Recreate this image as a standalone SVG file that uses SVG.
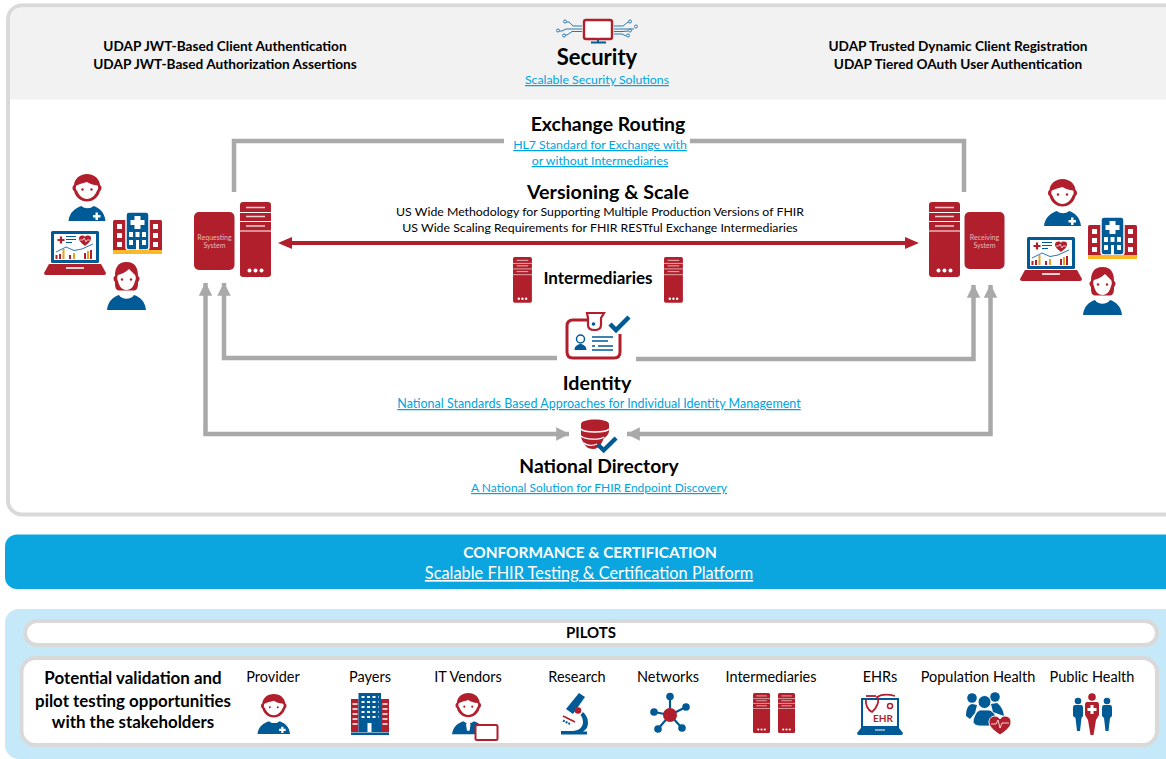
<svg xmlns="http://www.w3.org/2000/svg" width="1166" height="759" viewBox="0 0 1166 759">
<style>
text{font-family:Lato,"Liberation Sans",sans-serif;text-anchor:middle;fill:#000}
.h{font-size:19.4px;font-weight:700}
.s{font-size:13.65px;font-weight:700}
.l{font-size:12.3px;fill:#00a3e0;text-decoration:underline}
.n{font-size:12.3px}
.p{font-size:14.5px}
.q{font-size:16.9px;font-weight:700}
.t{font-size:7px;fill:#e8b8bc}
.con{fill:none;stroke:#a9a9a9;stroke-width:4.5}
.red{fill:#b01f2b}
.blue{fill:#005a96}
.w{fill:#fff}
</style>
<defs>
<marker id="ga" viewBox="0 0 10 10" refX="9.500" refY="5" markerWidth="3" markerHeight="3" orient="auto-start-reverse"><path d="M0 0L10 5L0 10z" fill="#a9a9a9"/></marker>
<g id="srv">
<rect x="0" y="0" width="31" height="75" rx="3" class="red"/>
<path d="M0 10.500H31M0 19.500H31M0 29H31" stroke="#fff" stroke-width="1"/>
<path d="M6 5.500H25M6 14.500H25M6 24H25" stroke="#f0d0d0" stroke-width="1.400"/>
<circle cx="9.500" cy="68.500" r="2" class="w"/><circle cx="15.500" cy="68.500" r="2" class="w"/><circle cx="21.500" cy="68.500" r="2" class="w"/>
</g>
<g id="head">
<path d="M18.500 0C11 0 6 5 5.500 11C3.500 12 3.500 16 5.500 17C7 23 12 27.500 18.500 27.500C25 27.500 30 23 31.500 17C33.500 16 33.500 12 31.500 11C31 5 26 0 18.500 0z" class="red"/>
<path d="M18.500 8C15 9 11 10 8 11.500C7 12 7 16 8.500 16.500C10 21 14 25 18.500 25C23 25 27 21 28.500 16.500C30 16 30 12 29 11.500C25 11 21 10 18.500 8z" class="w"/>
<circle cx="14" cy="15.500" r="1.200" class="red"/><circle cx="23" cy="15.500" r="1.200" class="red"/>
</g>
<path id="torso" d="M0 47C1 38 7 34 13 32C16 35 22 35 25 32C31 34 36 38 37 47z" class="blue"/>
<g id="man">
<use href="#torso"/>
<path d="M24.500 41h2.500v-2.500h2.500v2.500h2.500v2.500h-2.500v2.500h-2.500v-2.500h-2.500z" class="w"/>
<use href="#head"/>
</g>
<g id="woman">
<path d="M0 48C1 39 6 35 12 33C15 38 24 38 27 33C33 35 38 39 39 48z" class="blue"/>
<path d="M19.500 0C10 0 8 7 8 14C6 15 6 18 8 20C8 24 8 28 12 28.500L27 28.500C31 28 31 24 31 20C33 18 33 15 31 14C31 7 29 0 19.500 0z" class="red"/>
<path d="M22 7C19 10 15 12 11 13C10 14 10 18 11 19C12 24 15 28 19.500 28C24 28 27 24 28 19C29 18 29 14 28 13C26 11 24 9 22 7z" class="w"/>
<circle cx="15" cy="17.500" r="1.200" class="red"/><circle cx="24" cy="17.500" r="1.200" class="red"/>
</g>
<g id="laptop">
<rect x="7" y="0" width="48" height="32" rx="1.500" class="blue"/>
<rect x="10" y="3" width="42" height="26" class="w"/>
<path d="M0 42L5 33H57L62 42Q62 44 60 44H2Q0 44 0 42z" class="red"/>
<path d="M22 37H40" stroke="#fff" stroke-width="1.600"/>
<path d="M13.500 9h7M17 5.500v7" stroke="#b01f2b" stroke-width="2.200"/>
<path d="M22 5.500h10M22 8.500h10M22 11.500h6" stroke="#005a96" stroke-width="1"/>
<path d="M35 7c1-3 5-3 6-1 1-2 6-2 6 1 0 4-4 6-6 8-2-2-6-4-6-8z" class="red"/>
<path d="M36 9h3l1-2 2 4 1-2h3" stroke="#fff" stroke-width=".7" fill="none"/>
<path d="M12 21L22 16L30 19.500L38 18L49 13" stroke="#2a78b0" stroke-width="1" fill="none"/>
<path d="M12.500 24v4M16 23v5M26 24v4M41 22v6M47 19v9" stroke="#b01f2b" stroke-width="2"/>
<path d="M19.500 18v10M30 22v6M44 20v8" stroke="#e8a020" stroke-width="2"/>
</g>
<g id="hosp">
<rect x="0" y="9" width="15" height="33" rx="1.500" class="red"/>
<rect x="34" y="9" width="15" height="33" rx="1.500" class="red"/>
<rect x="13" y="0" width="23" height="38" rx="3" class="blue" stroke="#fff" stroke-width="1.500" transform="translate(0 1)"/>
<path d="M21.500 5h6v4h4v5h-4v4h-6v-4h-4v-5h4z" class="w"/>
<path d="M16 21h4v5h-4zM22.500 21h4v5h-4zM29 21h4v5h-4zM16 29h4v5h-4zM29 29h4v5h-4zM23 29h3v10h-3z" class="w"/>
<path d="M4 13h5v5h-5zM4 22h5v5h-5zM4 31h5v5h-5zM40 13h5v5h-5zM40 22h5v5h-5zM40 31h5v5h-5z" class="w"/>
<rect x="0" y="39" width="49" height="4" fill="#fdb827"/>
</g>
<path id="check" d="M0 7L6 13L19 0" stroke="#005a96" stroke-width="4.500" fill="none"/>
</defs>

<g id="panel-main">
<rect x="8" y="5.500" width="1180" height="509" rx="14" fill="#fff" stroke="#d9d9d9" stroke-width="4"/>
<path d="M10 99.500V20Q10 7.500 22 7.500H1166V99.500z" fill="#f2f2f2"/>
</g>

<g id="node-security">
<g id="security-icon">
<rect x="584" y="20" width="28" height="19" rx="2" fill="#fff" stroke="#b01f2b" stroke-width="2.400"/>
<rect x="597" y="36" width="3" height="1.500" fill="#fff"/>
<path d="M598 40v2M591 42.500H606" stroke="#005a96" stroke-width="1.800" fill="none"/>
<path d="M582 26H573L569 22H565M582 29H566L562 31H559M582 31.500H572L567 35H564" stroke="#2a78b0" stroke-width="1" fill="none"/>
<path d="M614 26H623L628 22H629M614 29H634M614 31.500H623L628 31M614 34H622L626 36" stroke="#2a78b0" stroke-width="1" fill="none"/>
<g fill="#fff" stroke="#2a78b0" stroke-width="1"><circle cx="565" cy="21.500" r="1.500"/><circle cx="558" cy="30.500" r="1.500"/><circle cx="564" cy="35.500" r="1.500"/><circle cx="630" cy="21.500" r="1.500"/><circle cx="636" cy="26.500" r="1.500"/><circle cx="630" cy="30.500" r="1.500"/><circle cx="628" cy="35.500" r="1.500"/></g>
</g>
<text x="597" y="65" style="font-size:22px;font-weight:700">Security</text>
<text x="597" y="84" class="l">Scalable Security Solutions</text>
</g>
<g id="node-udap-left">
<text x="225" y="51" class="s">UDAP JWT-Based Client Authentication</text>
<text x="225" y="69" class="s">UDAP JWT-Based Authorization Assertions</text>
</g>
<g id="node-udap-right">
<text x="958" y="51" class="s">UDAP Trusted Dynamic Client Registration</text>
<text x="958" y="69" class="s">UDAP Tiered OAuth User Authentication</text>
</g>

<g id="connectors">
<path class="con" d="M234 192V141H504M690 141H964V192"/>
<path class="con" d="M205.500 283V434H569" marker-start="url(#ga)" marker-end="url(#ga)"/>
<path class="con" d="M990.500 285V434H627" marker-start="url(#ga)" marker-end="url(#ga)"/>
<path class="con" d="M557 358H224V283" marker-end="url(#ga)"/>
<path class="con" d="M636 359H973.500V285" marker-end="url(#ga)"/>
<path d="M290 243H908" stroke="#b01f2b" stroke-width="4" fill="none"/>
<path d="M278 243L292 237V249z M919 243L905 237V249z" fill="#b01f2b"/>
</g>

<g id="node-exchange">
<text x="608" y="131" class="h">Exchange Routing</text>
<text x="600" y="149" class="l">HL7 Standard for Exchange with</text>
<text x="600" y="165" class="l">or without Intermediaries</text>
</g>
<g id="node-versioning">
<text x="608" y="199" class="h" style="font-size:19.700px">Versioning &amp; Scale</text>
<text x="600" y="216" class="n">US Wide Methodology for Supporting Multiple Production Versions of FHIR</text>
<text x="600" y="232" class="n">US Wide Scaling Requirements for FHIR RESTful Exchange Intermediaries</text>
</g>
<g id="node-intermediaries">
<use href="#srv" transform="translate(513 257) scale(.61 .61)"/>
<use href="#srv" transform="translate(664 257) scale(.61 .61)"/>
<text x="598" y="284" style="font-size:17px;font-weight:700">Intermediaries</text>
</g>
<g id="node-identity">
<g id="identity-icon">
<path d="M588 320H573Q567 320 567 326V352Q567 358 573 358H614Q620 358 620 352V334" fill="none" stroke="#b01f2b" stroke-width="3"/>
<path d="M587 313H604L601 318V325Q601 330 594.500 330Q588 330 588 325V318z" fill="#fff" stroke="#b01f2b" stroke-width="2.200"/>
<circle cx="593.500" cy="324" r="1.800" class="blue"/>
<use href="#check" transform="translate(610 317)"/>
<path d="M574.500 350c0-4 3-5 5-6h2c2 1 5 2 5 6z" class="blue"/>
<circle cx="580.500" cy="339" r="4" fill="#fff" stroke="#005a96" stroke-width="1.500"/>
<path d="M592 337H613M592 341H608M592 346H595M598 346H613M592 350H613" stroke="#005a96" stroke-width="1.400"/>
</g>
<text x="597" y="390" style="font-size:19.700px;font-weight:700">Identity</text>
<text x="599" y="408" class="l" style="font-size:12.500px">National Standards Based Approaches for Individual Identity Management</text>
</g>
<g id="node-directory">
<g id="directory-icon">
<path d="M581 424C581 418 609 418 609 424V431C609 434 606 437 604 438C602 442 600 449 593 449C588 449 585 446 584 443C582 441 581 438 581 435z" class="red"/>
<path d="M581 429C584 433 606 433 609 429M581 436C585 440 600 440 604 437M584 443C587 446 593 446 597 444" stroke="#fff" stroke-width="1.300" fill="none"/>
<use href="#check" transform="translate(598 438) scale(.95)"/>
</g>
<text x="599" y="473" style="font-size:19.300px;font-weight:700">National Directory</text>
<text x="599" y="492" class="l" style="font-size:12px">A National Solution for FHIR Endpoint Discovery</text>
</g>

<g id="node-requesting-system">
<rect x="194" y="212" width="40.500" height="58" rx="5" class="red"/>
<text x="214.500" y="240" class="t">Requesting</text>
<text x="214.500" y="248" class="t">System</text>
<use href="#srv" transform="translate(240 202)"/>
</g>
<g id="node-receiving-system">
<rect x="964.500" y="212" width="40" height="57" rx="5" class="red"/>
<text x="984.500" y="240" class="t">Receiving</text>
<text x="984.500" y="248" class="t">System</text>
<use href="#srv" transform="translate(929 202)"/>
</g>
<g id="node-users-left">
<use href="#man" transform="translate(68.500 174)"/>
<use href="#hosp" transform="translate(113 211)"/>
<use href="#laptop" transform="translate(44 231)"/>
<use href="#woman" transform="translate(107 262)"/>
</g>
<g id="node-users-right">
<use href="#man" transform="translate(1044 179)"/>
<use href="#hosp" transform="translate(1088 216)"/>
<use href="#laptop" transform="translate(1020 237)"/>
<use href="#woman" transform="translate(1083 267)"/>
</g>

<g id="node-conformance">
<rect x="5" y="534.500" width="1175" height="54.500" rx="12" fill="#0ba6df"/>
<text x="590" y="558" style="font-size:15.400px;font-weight:700;fill:#fff">CONFORMANCE &amp; CERTIFICATION</text>
<text x="589" y="579" style="font-size:16.350px;fill:#fff;text-decoration:underline">Scalable FHIR Testing &amp; Certification Platform</text>
</g>

<g id="node-pilots">
<rect x="5" y="609" width="1175" height="150" rx="14" fill="#c6e9fa"/>
<rect x="25" y="621" width="1132" height="24" rx="12" fill="#fff" stroke="#d9d9d9" stroke-width="4"/>
<text x="591" y="638" style="font-size:15px;font-weight:700">PILOTS</text>
<rect x="21.500" y="658" width="1135.500" height="87" rx="14" fill="#fff" stroke="#d9d9d9" stroke-width="4"/>
<text x="133" y="684" class="q">Potential validation and</text>
<text x="133" y="707" class="q">pilot testing opportunities</text>
<text x="133" y="728" class="q">with the stakeholders</text>
</g>
<g id="pilot-provider">
<text x="273" y="682" class="p">Provider</text>
<use href="#man" transform="translate(257.500 694) scale(.88 .85)"/>
</g>
<g id="pilot-payers">
<text x="370" y="682" class="p">Payers</text>
<rect x="351" y="699" width="7.500" height="33" class="red"/><rect x="381" y="699" width="8" height="33" class="red"/>
<rect x="358.500" y="693" width="22.500" height="39" class="blue"/>
<rect x="351" y="732.500" width="38" height="2.500" class="blue"/>
<path d="M361.500 697h17M361.500 702h17M361.500 707h17M361.500 712h17M361.500 717h17" stroke="#fff" stroke-width="2" stroke-dasharray="3 2.500"/>
<rect x="367.500" y="723" width="4" height="9" class="w"/>
<path d="M352.500 704h5M352.500 709h5M352.500 714h5M352.500 719h5M352.500 724h5M382.500 704h5M382.500 709h5M382.500 714h5M382.500 719h5M382.500 724h5" stroke="#fff" stroke-width="1.500"/>
</g>
<g id="pilot-it-vendors">
<text x="468" y="682" class="p">IT Vendors</text>
<g transform="translate(452 693) scale(.88)">
<use href="#torso"/>
<path d="M17 33h3l1 3-1 7h-3l-1-7z" class="w"/>
<use href="#head"/>
</g>
<rect x="475.500" y="725" width="22" height="15" rx="1.500" fill="#fff" stroke="#b01f2b" stroke-width="2"/>
</g>
<g id="pilot-research">
<text x="577" y="682" class="p">Research</text>
<path d="M561 734.500V731H572C579 731 583 727 583 722C583 719 582 717 580.500 715L583 712C586 715 588 718 588 723C588 727 586 730 583 731.500H587V734.500z" class="blue"/>
<path d="M579 693L585 697L573 714L566 709z" class="blue"/>
<circle cx="578" cy="710.500" r="3.300" class="red"/>
<path d="M563 716L575 722" stroke="#b01f2b" stroke-width="1.600"/>
<path d="M563 720.500L570 724" stroke="#005a96" stroke-width="2" stroke-dasharray="2 1"/>
</g>
<g id="pilot-networks">
<text x="668" y="682" class="p">Networks</text>
<path d="M670 715V697M670 715L686 707M670 715L654 712M670 715L658 729M670 715L682 728" stroke="#005a96" stroke-width="2.200"/>
<circle cx="670" cy="715" r="7" class="red"/>
<circle cx="670" cy="696.500" r="3.800" class="blue"/><circle cx="686" cy="707" r="3.800" class="blue"/><circle cx="654" cy="712" r="3.800" class="blue"/><circle cx="658" cy="729" r="3.800" class="blue"/><circle cx="682" cy="728" r="3.800" class="blue"/>
</g>
<g id="pilot-intermediaries">
<text x="771" y="682" class="p">Intermediaries</text>
<use href="#srv" transform="translate(753 693) scale(.55 .533)"/>
<use href="#srv" transform="translate(778 693) scale(.55 .533)"/>
</g>
<g id="pilot-ehrs">
<text x="880" y="682" class="p">EHRs</text>
<path d="M862 699H898V727H862z" fill="#fff" stroke="#005a96" stroke-width="2"/>
<path d="M857 733L861 728H899L903 733Q903 735 901 735H859Q857 735 857 733z" class="blue"/>
<path d="M875 730H885" stroke="#fff" stroke-width="1"/>
<path d="M866 699C865 705 868 710 872 712C877 708 880 700 877 697C882 694 888 694 895 696" fill="none" stroke="#b01f2b" stroke-width="1.800"/>
<path d="M866 696H876" stroke="#b01f2b" stroke-width="1.800"/>
<circle cx="890" cy="706" r="2.500" fill="#fff" stroke="#b01f2b" stroke-width="1.500"/>
<text x="883" y="722" style="font-size:10px;font-weight:700;fill:#b01f2b">EHR</text>
</g>
<g id="pilot-population-health">
<text x="978" y="682" class="p">Population Health</text>
<circle cx="972" cy="698" r="4.800" class="blue"/><circle cx="995" cy="697" r="4.800" class="blue"/>
<path d="M966 716C966 709 968 705 972 704L977 705L975 713L970 719z" class="blue"/>
<path d="M991 704L997 703C1000 705 1003 709 1004 716L993 712z" class="blue"/>
<circle cx="984.500" cy="702" r="6.500" fill="#005a96" stroke="#fff" stroke-width="1"/>
<path d="M973 722C974 715 977 711 980 710H989C993 711 996 715 997 720L991 726H981C977 726 974 725 973 722z" fill="#005a96" stroke="#fff" stroke-width=".8"/>
<path d="M1000 735C993 730 989 727 989 722C989 718 992 716 995 716C997 716 999 717 1000 719C1001 717 1003 716 1005 716C1008 716 1011 718 1011 722C1011 727 1007 730 1000 735z" class="red" stroke="#fff" stroke-width="1"/>
<path d="M991 724H996L998 720L1000 728L1002 723H1009" stroke="#fff" stroke-width=".8" fill="none"/>
</g>
<g id="pilot-public-health">
<text x="1092" y="682" class="p">Public Health</text>
<circle cx="1078" cy="701" r="3.300" class="blue"/><circle cx="1107" cy="701" r="3.300" class="blue"/>
<path d="M1075 705H1081Q1083 705 1083 708V716L1081.500 718L1080 731H1077L1075.500 718L1073 716V708Q1073 705 1075 705z" class="blue"/>
<path d="M1104 705H1110Q1112 705 1112 708V716L1110 718L1108.500 731H1105.500L1104 718L1102 716V708Q1102 705 1104 705z" class="blue"/>
<circle cx="1092" cy="697" r="3.800" class="red"/>
<path d="M1087 702H1097Q1099 702 1099 705V715L1096 720L1093.500 735H1090.500L1088 720L1085 715V705Q1085 702 1087 702z" class="red"/>
<path d="M1090.500 705h3v3h3v3h-3v3h-3v-3h-3v-3h3z" class="w"/>
</g>
</svg>
